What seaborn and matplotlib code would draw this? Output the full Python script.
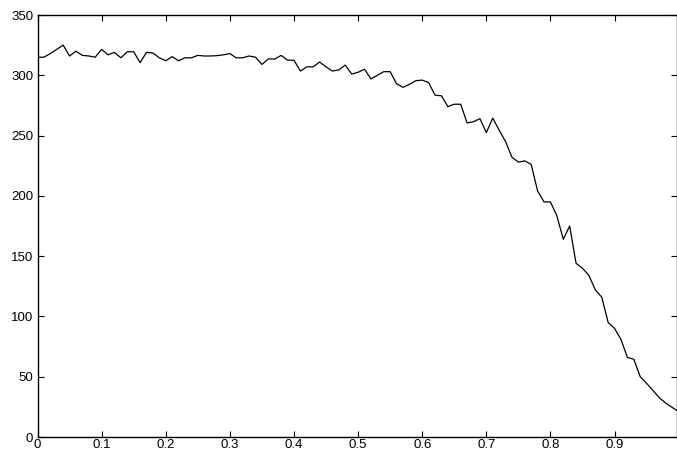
import numpy as np
import pandas as pd
import matplotlib
matplotlib.use("Agg")
import matplotlib.pyplot as plt
import seaborn as sns

x_values = [round(i * 0.01, 2) for i in range(101)]
y_values = [
    315, 315, 318, 321.5, 325, 316, 320, 316.5, 316, 315,
    321.5, 317, 319, 314.5, 319.5, 319.5, 310.5, 319, 318.5, 314.5,
    312, 315.5, 312, 314.5, 314.5, 316.5, 316, 316, 316.3, 317,
    318, 314.5, 314.5, 316, 315, 309, 313.5, 313.5, 316.5, 312.5,
    312.5, 303.5, 307, 307, 311, 307, 303.5, 304.5, 308.5, 301,
    302.5, 305, 297, 300, 303, 303, 293, 290, 292.5, 295.5,
    296, 294, 283.5, 283, 274, 276, 276, 260.5, 261.5, 264,
    252.5, 264.5, 254.5, 245, 232, 228, 229, 226, 204, 195,
    195, 183.5, 164, 175, 144, 140, 134, 122, 116, 95,
    90, 81, 66, 64.5, 50, 44.5, 38.5, 32.5, 28, 24.5,
    21,
]
x_ticks = [0, 0.1, 0.2, 0.3, 0.4, 0.5, 0.6, 0.7, 0.8, 0.9]
x_tick_labels = ["0", "0.1", "0.2", "0.3", "0.4", "0.5", "0.6", "0.7", "0.8", "0.9"]
y_ticks = [0, 50, 100, 150, 200, 250, 300, 350]

df = pd.DataFrame({"x": x_values, "y": y_values})

sns.set_style("ticks")
plt.rcParams["font.family"] = ["Liberation Sans", "DejaVu Sans"]

fig = plt.figure(figsize=(6.77, 4.53), dpi=100)
ax = fig.add_axes([37.5 / 677, 16 / 453, (676.5 - 37.5) / 677, (437 - 15) / 453])

sns.lineplot(data=df, x="x", y="y", ax=ax, color="black", linewidth=0.9)

ax.set_xlim(0, 0.9966)
ax.set_ylim(0, 350)
ax.set_xticks(x_ticks)
ax.set_xticklabels(x_tick_labels)
ax.set_yticks(y_ticks)
ax.set_xlabel("")
ax.set_ylabel("")
for s in ax.spines.values():
    s.set_visible(True)
    s.set_color("black")
    s.set_linewidth(1.0)
ax.tick_params(direction="in", length=4, width=0.8, top=True, right=True,
               labelsize=9.5, colors="black")
ax.tick_params(axis="x", pad=1.5)
ax.tick_params(axis="y", pad=3)
ax.grid(False)

fig.savefig("out.png", dpi=100, facecolor="white")
